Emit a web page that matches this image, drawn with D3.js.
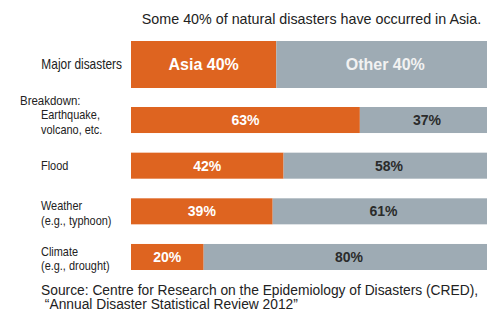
<!DOCTYPE html>
<html>
<head>
<meta charset="utf-8">
<script src="https://cdn.jsdelivr.net/npm/d3@7"></script>
<style>
  html, body { margin: 0; padding: 0; background: #ffffff; }
  svg { display: block; }
  .reg { font-family: "Liberation Sans", Arial, Helvetica, sans-serif; }
  .bold { font-family: "Liberation Sans", Arial, Helvetica, sans-serif; font-weight: bold; }
</style>
</head>
<body>
<svg id="chart" width="487" height="322"></svg>
<script>
// ---- data ----
const title = "Some 40% of natural disasters have occurred in Asia.";
const majorCategory = "Major disasters";
const majorValues = [40, 60];               // Asia, other
const majorLabels = ["Asia 40%", "Other 40%"];
const breakdownHeader = "Breakdown:";
const categories = ["Earthquake", "Flood", "Weather", "Climate"];
const categoryLines = [
  ["Earthquake,", "volcano, etc."],
  ["Flood"],
  ["Weather", "(e.g., typhoon)"],
  ["Climate", "(e.g., drought)"]
];
const asiaShare = [63, 42, 39, 20];
const otherShare = [37, 58, 61, 80];
const sourceLines = [
  "Source: Centre for Research on the Epidemiology of Disasters (CRED),",
  " \u201CAnnual Disaster Statistical Review 2012\u201D"
];

// ---- styles ----
const ORANGE = "#de6420";
const GRAY = "#9eabb4";
const DARK = "#2b2b2b";
const TEXT = "#222222";
const CONDENSE = 0.85;

const svg = d3.select("#chart");

const x = d3.scaleLinear().domain([0, 98]).range([131, 487]);
const y = d3.scaleBand().domain(categories).range([107, 270]).paddingInner(0.43).paddingOuter(0);
const majorY = d3.scaleBand().domain([majorCategory]).range([41, 88]);

// title
svg.append("text").attr("class", "reg")
  .attr("x", 311.5).attr("y", 24)
  .attr("text-anchor", "middle")
  .attr("font-size", 14.3).attr("fill", TEXT)
  .text(title);

// major bar
const mTop = majorY(majorCategory), mH = majorY.bandwidth();
const mStarts = [0, majorValues[0]];
svg.selectAll("rect.major").data(majorValues).join("rect").attr("class", "major")
  .attr("x", (d, i) => x(mStarts[i]))
  .attr("y", mTop)
  .attr("width", (d, i) => x(mStarts[i] + d) - x(mStarts[i]))
  .attr("height", mH)
  .attr("fill", (d, i) => i === 0 ? ORANGE : GRAY);
svg.selectAll("text.majorLab").data(majorValues).join("text").attr("class", "majorLab bold")
  .attr("x", (d, i) => (x(mStarts[i]) + x(mStarts[i] + d)) / 2)
  .attr("y", mTop + mH / 2 + 5.5)
  .attr("text-anchor", "middle")
  .attr("font-size", 16)
  .attr("fill", (d, i) => i === 0 ? "#ffffff" : "#f2f2f2")
  .text((d, i) => majorLabels[i]);
svg.append("text").attr("class", "reg")
  .attr("transform", `translate(122,${mTop + mH / 2 + 4.5}) scale(${CONDENSE},1)`)
  .attr("text-anchor", "end").attr("font-size", 14).attr("fill", TEXT)
  .text(majorCategory);

// breakdown header
svg.append("text").attr("class", "reg")
  .attr("transform", `translate(20,105) scale(${CONDENSE},1)`)
  .attr("font-size", 13.5).attr("fill", TEXT)
  .text(breakdownHeader);

// breakdown bars
const rows = svg.selectAll("g.row").data(categories).join("g").attr("class", "row");
rows.append("rect")
  .attr("x", x(0)).attr("y", d => y(d))
  .attr("width", (d, i) => x(asiaShare[i]) - x(0))
  .attr("height", y.bandwidth()).attr("fill", ORANGE);
rows.append("rect")
  .attr("x", (d, i) => x(asiaShare[i])).attr("y", d => y(d))
  .attr("width", (d, i) => x(asiaShare[i] + otherShare[i]) - x(asiaShare[i]))
  .attr("height", y.bandwidth()).attr("fill", GRAY);
rows.append("text").attr("class", "bold")
  .attr("x", (d, i) => (x(0) + x(asiaShare[i])) / 2)
  .attr("y", d => y(d) + y.bandwidth() / 2 + 5)
  .attr("text-anchor", "middle").attr("font-size", 14).attr("fill", "#ffffff")
  .text((d, i) => asiaShare[i] + "%");
rows.append("text").attr("class", "bold")
  .attr("x", (d, i) => (x(asiaShare[i]) + x(asiaShare[i] + otherShare[i])) / 2)
  .attr("y", d => y(d) + y.bandwidth() / 2 + 5)
  .attr("text-anchor", "middle").attr("font-size", 14).attr("fill", DARK)
  .text((d, i) => otherShare[i] + "%");
rows.each(function(d, i) {
  const lines = categoryLines[i];
  const cy = y(d) + y.bandwidth() / 2;
  const y0 = lines.length === 1 ? cy + 4.5 : cy - 1;
  const t = d3.select(this).append("text").attr("class", "reg")
    .attr("transform", `translate(41,${y0}) scale(${CONDENSE * 0.99},1)`)
    .attr("font-size", 13).attr("fill", TEXT);
  lines.forEach((ln, j) => {
    t.append("tspan").attr("x", 0).attr("y", j * 14.5).text(ln);
  });
});

// source
const src = svg.append("text").attr("class", "reg").attr("font-size", 13.8).attr("fill", TEXT);
sourceLines.forEach((ln, j) => {
  src.append("tspan").attr("x", 41).attr("y", 295 + j * 13.5).attr("xml:space", "preserve").text(ln);
});
</script>
</body>
</html>
